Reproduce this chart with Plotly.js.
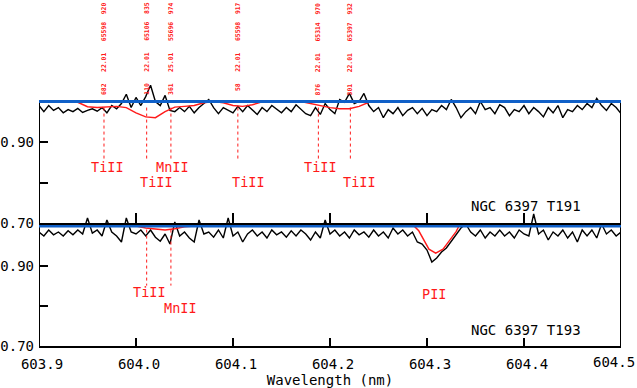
<!DOCTYPE html>
<html>
<head>
<meta charset="utf-8">
<script src="https://cdn.plot.ly/plotly-3.0.1.min.js"></script>
<style>
  body { margin: 0; background: #fff; }
  #myDiv { width: 637px; height: 388px; }
</style>
</head>
<body>
<div id="myDiv"></div>
<script>
// spectrum sampling grid (nm)
let wlStart = 603.9;
let wlStep = 0.005;

// observed flux, NGC 6397 T191 (top panel)
let fluxT191 = [
    0.990, 0.975, 0.990, 0.978, 0.985, 0.972, 0.980, 0.975, 0.983, 0.973,
    0.978, 0.982, 0.976, 0.985, 0.972, 0.990, 0.982, 0.995, 1.018, 0.985,
    1.010, 0.990, 1.012, 1.040, 1.000, 0.990, 1.015, 0.978, 0.975, 0.985,
    0.975, 0.988, 0.972, 0.985, 0.995, 1.005, 0.985, 0.970, 0.985, 0.978,
    0.972, 0.988, 0.975, 0.990, 0.980, 0.968, 0.985, 0.975, 0.990, 0.980,
    0.972, 0.985, 0.975, 0.992, 0.980, 0.970, 0.965, 0.985, 0.968, 0.995,
    0.980, 0.970, 1.005, 0.998, 1.020, 0.995, 1.000, 1.020, 0.990, 0.975,
    0.985, 0.960, 0.980, 0.970, 0.985, 0.965, 0.978, 0.985, 0.970, 0.983,
    0.965, 0.980, 0.975, 0.990, 0.980, 1.005, 0.985, 0.960, 0.975, 0.985,
    0.970, 1.000, 0.980, 0.985, 0.970, 0.992, 0.985, 0.965, 0.980, 0.975,
    0.990, 0.970, 0.985, 0.975, 0.962, 0.985, 0.972, 0.990, 0.960, 0.980,
    0.975, 0.990, 0.980, 0.995, 0.985, 1.008, 0.990, 0.978, 0.995, 0.985,
    0.970
];

// observed flux, NGC 6397 T193 (bottom panel)
let fluxT193 = [
    0.985, 0.975, 0.990, 0.978, 0.985, 0.975, 0.988, 0.978, 0.990, 0.980,
    1.020, 0.982, 0.990, 0.975, 1.015, 0.985, 0.975, 0.960, 1.020, 0.985,
    0.980, 0.990, 0.975, 0.990, 0.972, 0.962, 0.980, 0.955, 1.010, 0.975,
    0.985, 0.970, 0.960, 1.015, 0.980, 0.985, 0.972, 0.990, 0.970, 1.020,
    0.975, 0.985, 0.960, 0.980, 0.990, 0.975, 0.985, 0.970, 0.990, 0.978,
    0.985, 0.972, 0.988, 0.975, 0.990, 0.980, 0.965, 0.985, 0.970, 1.015,
    0.980, 0.990, 0.975, 0.985, 0.970, 0.990, 0.978, 0.985, 0.972, 0.990,
    0.975, 0.985, 0.970, 0.995, 0.980, 0.990, 0.975, 0.985, 0.960, 0.955,
    0.940, 0.910, 0.920, 0.935, 0.945, 0.962, 0.980, 0.995, 1.005, 0.985,
    0.975, 0.990, 0.970, 0.985, 0.975, 0.990, 0.975, 0.985, 0.970, 0.990,
    0.980, 0.975, 1.030, 0.980, 0.990, 0.965, 0.985, 0.975, 0.990, 0.970,
    0.985, 0.960, 0.990, 0.975, 0.990, 0.970, 1.005, 0.980, 0.990, 0.975,
    0.985
];

// synthetic fits
let modelWaveT191 = [603.900, 603.930, 603.940, 603.950, 603.960, 603.970, 603.980, 603.990,
    604.000, 604.010, 604.020, 604.030, 604.040, 604.050, 604.060, 604.070, 604.080,
    604.090, 604.100, 604.110, 604.120, 604.130, 604.140, 604.170, 604.180, 604.190,
    604.200, 604.210, 604.220, 604.230, 604.240, 604.250, 604.500];
let modelFluxT191 = [1.000, 1.000, 0.998, 0.987, 0.985, 0.987, 0.988, 0.985,
    0.972, 0.962, 0.960, 0.975, 0.986, 0.988, 0.990, 0.997, 1.000,
    0.997, 0.990, 0.988, 0.992, 0.999, 1.000, 1.000, 0.995, 0.990,
    0.985, 0.982, 0.982, 0.988, 0.998, 1.000, 1.000];

let modelWaveT193 = [603.900, 604.000, 604.010, 604.020, 604.030, 604.040, 604.050, 604.060,
    604.2866, 604.2915, 604.2959, 604.302, 604.309, 604.3165, 604.3227, 604.330, 604.333, 604.500];
let modelFluxT193 = [1.000, 1.000, 0.995, 0.992, 0.990, 0.993, 0.998, 1.000,
    1.000, 0.988, 0.969, 0.942, 0.932, 0.942, 0.962, 0.986, 1.000, 1.000];

let continuum = 1.0;

// line identifications
let linesT191 = [603.967, 604.011, 604.036, 604.105, 604.188, 604.221];
let idsT191 = ['TiII', 'TiII', 'MnII', 'TiII', 'TiII', 'TiII'];
let idXT191 = [603.971, 604.0216, 604.038, 604.1155, 604.1907, 604.2299];
let idYT191 = [0.838, 0.801, 0.838, 0.801, 0.838, 0.801];
let lineInfoT191 = [
    '682   22.01   65598  920',
    '110   22.01   65106  835',
    '361   25.01   55696  974',
    ' 58   22.01   65598  917',
    '876   22.01   65314  970',
    '301   22.01   65397  932'
];

let linesT193 = [604.011, 604.036];
let idsT193 = ['TiII', 'MnII', 'PII'];
let idXT193 = [604.0144, 604.0454, 604.307];
let idYT193 = [0.836, 0.796, 0.831];

let xTicks = [603.9, 604.0, 604.1, 604.2, 604.3, 604.4, 604.5];
let xTickText = ['603.9', '604.0', '604.1', '604.2', '604.3', '604.4', '604.5'];
let yTicks = [0.70, 0.80, 0.90];
let yTickText = ['0.70', '', '0.90'];

function calculate() {
    let wave = [];
    for (let i = 0; i < fluxT191.length; i++) {
        wave.push(Math.round((wlStart + i * wlStep) * 10000) / 10000);
    }

    let mono = 'DejaVu Sans Mono';
    let red = '#ff1a1a';
    let blue = '#1060c8';

    // dotted marker lines
    let dotX1 = [], dotY1 = [];
    linesT191.forEach(w => { dotX1.push(w, w, null); dotY1.push(0.985, 0.852, null); });
    let dotX2 = [], dotY2 = [];
    linesT193.forEach(w => { dotX2.push(w, w, null); dotY2.push(0.991, 0.851, null); });

    let data = [
        {x: wave, y: fluxT193, xaxis: 'x', yaxis: 'y', mode: 'lines',
         line: {color: 'black', width: 1.4}},
        {x: modelWaveT193, y: modelFluxT193, xaxis: 'x', yaxis: 'y', mode: 'lines',
         line: {color: red, width: 1.4}},
        {x: dotX2, y: dotY2, xaxis: 'x', yaxis: 'y', mode: 'lines',
         line: {color: red, width: 1, dash: 'dot'}},
        {x: [xTicks[0], xTicks[xTicks.length - 1]], y: [continuum, continuum], xaxis: 'x', yaxis: 'y',
         mode: 'lines', line: {color: blue, width: 3}},

        {x: wave, y: fluxT191, xaxis: 'x2', yaxis: 'y2', mode: 'lines',
         line: {color: 'black', width: 1.4}},
        {x: modelWaveT191, y: modelFluxT191, xaxis: 'x2', yaxis: 'y2', mode: 'lines',
         line: {color: red, width: 1.4}},
        {x: dotX1, y: dotY1, xaxis: 'x2', yaxis: 'y2', mode: 'lines',
         line: {color: red, width: 1, dash: 'dot'}},
        {x: [xTicks[0], xTicks[xTicks.length - 1]], y: [continuum, continuum], xaxis: 'x2', yaxis: 'y2',
         mode: 'lines', line: {color: blue, width: 3}}
    ];

    let annotations = [];
    idsT191.forEach((t, i) => annotations.push({
        x: idXT191[i], y: idYT191[i], xref: 'x2', yref: 'y2', text: t, showarrow: false,
        font: {family: mono, size: 13.5, color: red}
    }));
    lineInfoT191.forEach((t, i) => annotations.push({
        x: linesT191[i], y: 1.011, xref: 'x2', yref: 'y2', text: t.replace(/ /g, '\u00a0'),
        showarrow: false, textangle: -90, yanchor: 'bottom',
        font: {family: mono, size: 6.4, color: red, weight: 'bold'}
    }));
    idsT193.forEach((t, i) => annotations.push({
        x: idXT193[i], y: idYT193[i], xref: 'x', yref: 'y', text: t, showarrow: false,
        font: {family: mono, size: 13.5, color: red}
    }));
    annotations.push({x: 604.402, y: 0.742, xref: 'x2', yref: 'y2', text: 'NGC 6397 T191',
        showarrow: false, font: {family: mono, size: 14, color: 'black'}});
    annotations.push({x: 604.402, y: 0.7395, xref: 'x', yref: 'y', text: 'NGC 6397 T193',
        showarrow: false, font: {family: mono, size: 14, color: 'black'}});
    // last x tick label sits flush with the right edge
    annotations.push({x: 1, xref: 'paper', xshift: 16, xanchor: 'right',
        y: 0, yref: 'paper', yshift: -16, yanchor: 'middle',
        text: xTickText[xTickText.length - 1], showarrow: false,
        font: {family: mono, size: 14, color: 'black'}});

    // panel frames
    let frame = {type: 'line', layer: 'below', line: {color: 'black', width: 2}};
    let shapes = [
        Object.assign({xref: 'x', yref: 'y', x0: 603.9, x1: 603.9, y0: 0.70, y1: 1.0}, frame),
        Object.assign({xref: 'x', yref: 'y', x0: 604.5, x1: 604.5, y0: 0.70, y1: 1.0}, frame),
        Object.assign({xref: 'x2', yref: 'y2', x0: 603.9, x1: 603.9, y0: 0.70, y1: 1.0}, frame),
        Object.assign({xref: 'x2', yref: 'y2', x0: 604.5, x1: 604.5, y0: 0.70, y1: 1.0}, frame),
        Object.assign({xref: 'x2', yref: 'y2', x0: 603.9, x1: 604.5, y0: 1.0, y1: 1.0}, frame)
    ];

    let xBase = {
        range: [603.9, 604.5], tickvals: xTicks,
        ticks: 'inside', tickwidth: 2, tickcolor: 'black',
        showline: true, linecolor: 'black', linewidth: 2,
        showgrid: false, zeroline: false, layer: 'below traces',
        tickfont: {family: mono, size: 14, color: 'black'}
    };
    let yBase = {
        range: [0.70, 1.09], tickvals: yTicks, ticktext: yTickText,
        ticks: 'inside', ticklen: 9, tickwidth: 2, tickcolor: 'black',
        showline: false, showgrid: false, zeroline: false, ticklabelstandoff: 4,
        tickfont: {family: mono, size: 14, color: 'black'}
    };

    let layout = {
        width: 637, height: 388,
        margin: {l: 39, r: 16, t: 0, b: 42},
        paper_bgcolor: 'white', plot_bgcolor: 'rgba(0,0,0,0)',
        showlegend: false,
        xaxis: Object.assign({}, xBase, {anchor: 'y', ticklen: 8, ticklabelstandoff: 4, ticklabelshift: 3,
            ticktext: xTickText.slice(0, -1).concat(['']),
            title: {text: 'Wavelength (nm)', font: {family: mono, size: 14, color: 'black'}, standoff: 2}}),
        xaxis2: Object.assign({}, xBase, {anchor: 'y2', matches: 'x', ticklen: 10, showticklabels: false}),
        yaxis: Object.assign({}, yBase, {domain: [0, 0.4509], anchor: 'x'}),
        yaxis2: Object.assign({}, yBase, {domain: [0.3555, 1], range: [0.70, 1.2506], anchor: 'x2'}),
        yaxis3: Object.assign({}, yBase, {overlaying: 'y', side: 'right', anchor: 'x', showticklabels: false}),
        yaxis4: Object.assign({}, yBase, {overlaying: 'y2', side: 'right', anchor: 'x2',
            range: [0.70, 1.2506], showticklabels: false}),
        annotations: annotations,
        shapes: shapes
    };

    Plotly.newPlot('myDiv', data, layout, {staticPlot: true});
}

calculate();
</script>
</body>
</html>
